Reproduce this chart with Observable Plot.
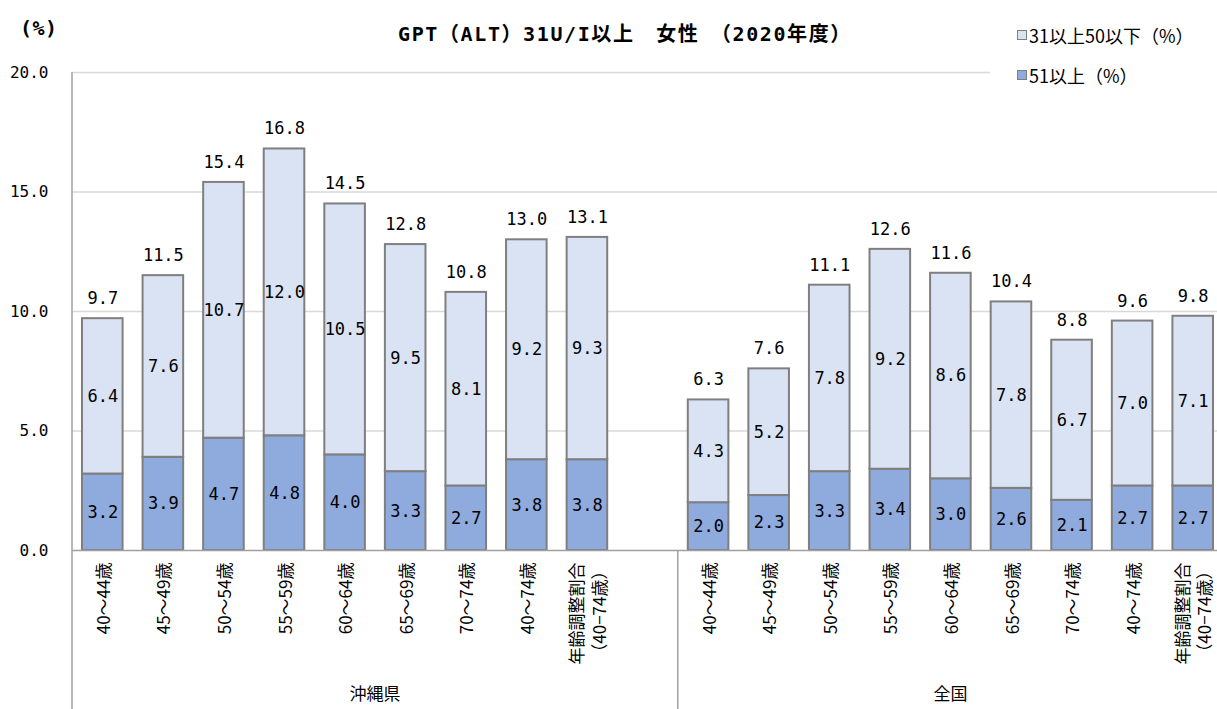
<!DOCTYPE html>
<html><head><meta charset="utf-8">
<script src="https://cdn.jsdelivr.net/npm/d3@7"></script>
<script src="https://cdn.jsdelivr.net/npm/@observablehq/plot@0.6"></script>
<style>
body{margin:0;width:1217px;height:709px;overflow:hidden;background:#fff;position:relative;font-family:"Noto Sans CJK JP",sans-serif;color:#000}
#chart{position:absolute;left:0;top:0;width:1223px}
#unit{position:absolute;left:20px;top:16px;font-size:20px;letter-spacing:0.5px;font-weight:bold;font-family:"DejaVu Sans Mono","Noto Sans CJK JP",sans-serif}
#title{position:absolute;left:0;width:1250px;top:18px;text-align:center;font-size:20px;letter-spacing:1.6px;font-weight:bold;font-family:"DejaVu Sans Mono","Noto Sans CJK JP",sans-serif;white-space:pre}
#legend{position:absolute;left:990px;top:18px;width:227px;height:80px;background:#fff;font-size:18px}
.li{position:absolute;left:27px;display:flex;align-items:center;white-space:nowrap}
.sw{width:8px;height:8px;border:1.5px solid #7f7f7f;margin-right:2px}
</style></head><body>
<div id="chart"></div>
<div id="unit">(%)</div>
<div id="title"></div>
<div id="legend"></div>
<script>
const titleText = "GPT（ALT）31U/I以上　女性　（2020年度）";
const groups = ["沖縄県", "全国"];
const ages = ["40～44歳","45～49歳","50～54歳","55～59歳","60～64歳","65～69歳","70～74歳","40～74歳","年齢調整割合\n（40−74歳）"];
const seriesNames = ["31以上50以下（%）", "51以上（%）"];
const seriesColors = ["#DAE3F3", "#8FAADC"];
const yTicks = [0, 5, 10, 15, 20];

// 沖縄県
const okinawaHigh  = [3.2, 3.9, 4.7, 4.8, 4.0, 3.3, 2.7, 3.8, 3.8];
const okinawaMid   = [6.4, 7.6, 10.7, 12.0, 10.5, 9.5, 8.1, 9.2, 9.3];
const okinawaTotal = [9.7, 11.5, 15.4, 16.8, 14.5, 12.8, 10.8, 13.0, 13.1];
// 全国
const zenkokuHigh  = [2.0, 2.3, 3.3, 3.4, 3.0, 2.6, 2.1, 2.7, 2.7];
const zenkokuMid   = [4.3, 5.2, 7.8, 9.2, 8.6, 7.8, 6.7, 7.0, 7.1];
const zenkokuTotal = [6.3, 7.6, 11.1, 12.6, 11.6, 10.4, 8.8, 9.6, 9.8];

const rows = [];
const build = (g, high, mid, total) => ages.forEach((a, i) => rows.push({group: g, age: a, key: g + "|" + i, high: high[i], mid: mid[i], total: total[i]}));
build(groups[0], okinawaHigh, okinawaMid, okinawaTotal);
build(groups[1], zenkokuHigh, zenkokuMid, zenkokuTotal);
const gapKey = groups[0] + "|gap";
const domain = [...rows.filter(d => d.group === groups[0]).map(d => d.key), gapKey, ...rows.filter(d => d.group === groups[1]).map(d => d.key)];
const labelOf = new Map(rows.map(d => [d.key, d.age]));
labelOf.set(gapKey, "");

document.getElementById("title").textContent = titleText;
document.getElementById("legend").innerHTML = seriesNames.map((s, i) =>
  `<div class="li" style="top:${i === 0 ? 4 : 44}px"><span class="sw" style="background:${seriesColors[i]}"></span>${s}</div>`).join("");

const numFont = "'DejaVu Sans Mono',monospace";
const fmt = v => v.toFixed(1);

const chart = Plot.plot({
  width: 1223, height: 709,
  marginTop: 72, marginBottom: 159, marginLeft: 72, marginRight: 0,
  style: {fontFamily: "'Noto Sans CJK JP',sans-serif", background: "transparent", overflow: "visible", maxWidth: "none"},
  x: {domain, paddingInner: 0.33, paddingOuter: 0.165, round: false, label: null},
  y: {domain: [0, 20], label: null},
  marks: [
    Plot.gridY(yTicks.filter(t => t > 0), {stroke: "#d9d9d9", strokeOpacity: 1, strokeWidth: 1.5}),
    Plot.rectY(rows, {x: "key", y1: 0, y2: "high", fill: seriesColors[1], stroke: "#7f7f7f", strokeWidth: 2}),
    Plot.rectY(rows, {x: "key", y1: "high", y2: "total", fill: seriesColors[0], stroke: "#7f7f7f", strokeWidth: 2}),
    Plot.ruleY([0], {stroke: "#a0a0a0", strokeWidth: 1.5}),
    Plot.text(rows, {x: "key", y: d => d.high / 2, text: d => fmt(d.high), fontSize: 17, fontFamily: numFont}),
    Plot.text(rows, {x: "key", y: d => d.high + (d.total - d.high) / 2, text: d => fmt(d.mid), fontSize: 17, fontFamily: numFont}),
    Plot.text(rows, {x: "key", y: "total", text: d => fmt(d.total), dy: -20, fontSize: 17, fontFamily: numFont}),
    Plot.axisY({ticks: yTicks, tickFormat: fmt, tickSize: 0, tickPadding: 24, fontSize: 16, fontFamily: numFont, label: null}),
    Plot.axisX({tickFormat: k => labelOf.get(k), tickSize: 0, tickPadding: 12, tickRotate: -90, lineHeight: 1.3, fontSize: 17, label: null})
  ]
});
document.getElementById("chart").appendChild(chart);

// group separators and group labels from the x scale
const xs = chart.scale("x");
const ys = chart.scale("y");
const half = (xs.step - xs.bandwidth) / 2;
const left = xs.range[0];
const firstZ = domain[domain.indexOf(gapKey) + 1];
const divider = xs.apply(firstZ) - half;
const right = xs.apply(domain[domain.length - 1]) + xs.bandwidth + half;
const y0 = ys.apply(0), y20 = ys.apply(20);
const svg = d3.select(chart);
svg.append("line").attr("x1", left).attr("x2", left).attr("y1", y20).attr("y2", 709).attr("stroke", "#a0a0a0").attr("stroke-width", 1.5);
svg.append("line").attr("x1", divider).attr("x2", divider).attr("y1", y0).attr("y2", 709).attr("stroke", "#a0a0a0").attr("stroke-width", 1.5);
svg.append("line").attr("x1", right).attr("x2", right).attr("y1", y0).attr("y2", 709).attr("stroke", "#a0a0a0").attr("stroke-width", 1.5);
[[left, divider, groups[0]], [divider, right, groups[1]]].forEach(([a, b, g]) => {
  svg.append("text").attr("x", (a + b) / 2).attr("y", 695).attr("text-anchor", "middle").attr("dominant-baseline", "middle")
    .attr("font-size", 17).attr("font-family", "'Noto Sans CJK JP',sans-serif").text(g);
});
</script>
</body></html>
